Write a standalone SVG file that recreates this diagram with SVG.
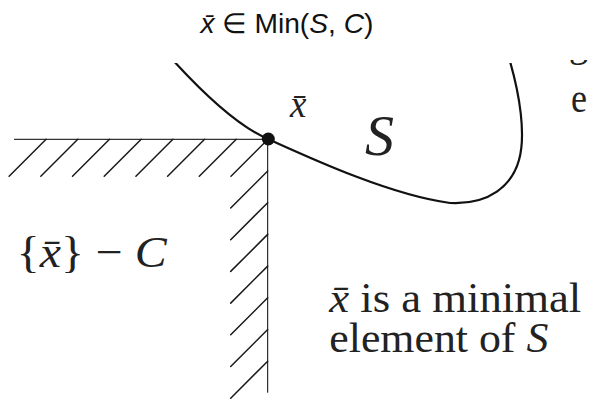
<svg xmlns="http://www.w3.org/2000/svg" width="589" height="399" viewBox="0 0 589 399">
  <style>
    .sans { font-family: "Liberation Sans", Arial, sans-serif; fill: #111; }
    .serif { font-family: "Liberation Serif", "DejaVu Serif", serif; fill: #222; }
    .it { font-style: italic; }
    .edge { stroke: #000; stroke-width: 1; fill: none; }
    .hatch { stroke: #1a1a1a; stroke-width: 1.5; stroke-linecap: round; fill: none; }
    .curve { stroke: #111; stroke-width: 2.2; fill: none; }
  </style>
  <defs>
    <clipPath id="top-clip"><rect x="0" y="63" width="589" height="336"/></clipPath>
    <clipPath id="frag-clip"><rect x="560" y="60" width="29" height="12"/></clipPath>
  </defs>
  <rect width="589" height="399" fill="#fff"/>

  <g id="title">
    <text class="sans" x="200.5" y="33.3" font-size="28" textLength="173" lengthAdjust="spacingAndGlyphs"><tspan class="it">x̄</tspan> ∈ Min(<tspan class="it">S</tspan>, <tspan class="it">C</tspan>)</text>
  </g>

  <g id="cone">
    <line class="edge" x1="14" y1="139.3" x2="268" y2="139.3"/>
    <line class="edge" x1="267.7" y1="139.3" x2="267.7" y2="392.7"/>
    <g id="hatch-horizontal">
      <line class="hatch" x1="268" y1="139.3" x2="231" y2="176.3"/>
      <line class="hatch" x1="236.3" y1="139.3" x2="199.3" y2="176.3"/>
      <line class="hatch" x1="204.6" y1="139.3" x2="167.6" y2="176.3"/>
      <line class="hatch" x1="172.9" y1="139.3" x2="135.9" y2="176.3"/>
      <line class="hatch" x1="141.2" y1="139.3" x2="104.2" y2="176.3"/>
      <line class="hatch" x1="109.5" y1="139.3" x2="72.5" y2="176.3"/>
      <line class="hatch" x1="77.8" y1="139.3" x2="40.8" y2="176.3"/>
      <line class="hatch" x1="46.1" y1="139.3" x2="9.1" y2="176.3"/>
    </g>
    <g id="hatch-vertical">
      <line class="hatch" x1="267.7" y1="171" x2="230.7" y2="208"/>
      <line class="hatch" x1="267.7" y1="202.7" x2="230.7" y2="239.7"/>
      <line class="hatch" x1="267.7" y1="234.4" x2="230.7" y2="271.4"/>
      <line class="hatch" x1="267.7" y1="266.1" x2="230.7" y2="303.1"/>
      <line class="hatch" x1="267.7" y1="297.8" x2="230.7" y2="334.8"/>
      <line class="hatch" x1="267.7" y1="329.5" x2="230.7" y2="366.5"/>
      <line class="hatch" x1="267.7" y1="361.2" x2="230.7" y2="398.2"/>
    </g>
  </g>

  <g id="set-S" clip-path="url(#top-clip)">
    <path class="curve" d="M171,58 C200,90 235,125 268,139 C310,158 390,195 450,203 C490,205 512,185 519,160 C526,135 520,95 509,58"/>
  </g>

  <g id="point-xbar">
    <circle cx="268.3" cy="139" r="6.5" fill="#111"/>
  </g>

  <g id="labels">
    <text class="serif it" x="290" y="117.3" font-size="37">x̄</text>
    <text class="serif it" x="365" y="155" font-size="58">S</text>
    <text class="serif" x="16.7" y="266.7" font-size="44" textLength="150" lengthAdjust="spacingAndGlyphs">{<tspan class="it">x̄</tspan>} − <tspan class="it">C</tspan></text>
    <text class="serif" font-size="42"><tspan x="329.3" y="311.7" textLength="252" lengthAdjust="spacingAndGlyphs"><tspan class="it">x̄</tspan> is a minimal</tspan><tspan x="329.3" y="351.7" textLength="219" lengthAdjust="spacingAndGlyphs">element of <tspan class="it">S</tspan></tspan></text>
    <text class="serif" x="571" y="112" font-size="43" textLength="16" lengthAdjust="spacingAndGlyphs">e</text>
    <text class="serif" x="569" y="57" font-size="38" clip-path="url(#frag-clip)">g</text>
  </g>
</svg>
